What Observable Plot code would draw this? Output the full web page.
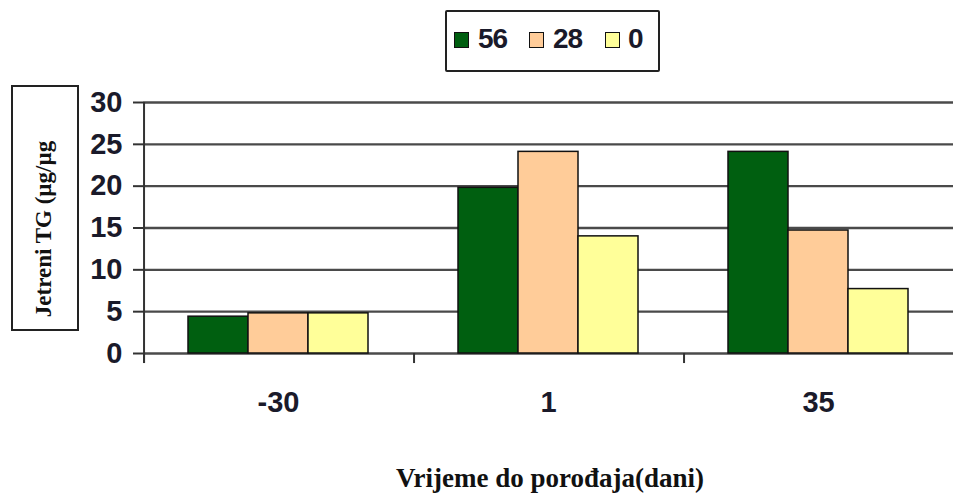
<!DOCTYPE html>
<html>
<head>
<meta charset="utf-8">
<script src="https://cdn.jsdelivr.net/npm/d3@7"></script>
<script src="https://cdn.jsdelivr.net/npm/@observablehq/plot@0.6"></script>
<style>
  html, body { margin: 0; padding: 0; background: #fff; }
  #wrap { position: relative; width: 953px; height: 496px; overflow: hidden; }
  .sans { font-family: "Liberation Sans", Arial, sans-serif; font-weight: bold; }
  #legend { position: absolute; left: 445px; top: 10px; width: 211px; height: 58px; border: 2px solid #222; border-radius: 2px; box-sizing: content-box; }
  .sw { position: absolute; top: 20px; width: 13px; height: 14px; border: 1.5px solid #111; }
  .lt { position: absolute; top: 10px; font-size: 28px; line-height: 34px; color: #1a1a2a; letter-spacing: -1px; }
  #ybox { position: absolute; left: 11px; top: 85px; width: 64px; height: 242px; border: 2px solid #222; }
  #ylab { position: absolute; left: 44px; top: 229px; transform: translate(-50%, -50%) rotate(-90deg); white-space: nowrap;
          font-family: "Liberation Serif", "Times New Roman", serif; font-weight: bold; font-size: 23px; color: #111; }
  #xlab { position: absolute; left: 550px; top: 463px; transform: translateX(-50%); white-space: nowrap;
          font-family: "Liberation Serif", "Times New Roman", serif; font-weight: bold; font-size: 27px; color: #111; }
</style>
</head>
<body>
<div id="wrap"></div>
<script>
// Data
const groups = [-30, 1, 35];            // days relative to parturition
const series = ["56", "28", "0"];       // legend labels
const values56 = [4.4, 19.8, 24.1];
const values28 = [4.8, 24.1, 14.7];
const values0  = [4.8, 14.0, 7.7];
const colors = ["#005f10", "#ffcc99", "#ffff99"];
const yTicks = [0, 5, 10, 15, 20, 25, 30];

const seriesValues = [values56, values28, values0];
const data = [];
groups.forEach((g, gi) => series.forEach((s, si) => data.push({group: g, series: s, value: seriesValues[si][gi]})));

const W = 953, H = 496, mL = 143, mR = 0, mT = 102, mB = 143;
const padOuter = 0.73;
const facetW = (W - mL - mR) / groups.length;
const step = facetW / (series.length + 2 * padOuter);
const edgeOffset = -(step * padOuter + step / 2); // from first band center to facet's left edge

const chart = Plot.plot({
  width: W,
  height: H,
  marginTop: mT,
  marginBottom: mB,
  marginLeft: mL,
  marginRight: mR,
  style: {fontFamily: '"Liberation Sans", Arial, sans-serif', background: "transparent", overflow: "visible"},
  fx: {domain: groups, padding: 0, label: null},
  x: {domain: series, paddingInner: 0, paddingOuter: padOuter, axis: null},
  y: {domain: [0, 30], ticks: yTicks, label: null},
  color: {domain: series, range: colors},
  marks: [
    Plot.ruleY(yTicks, {stroke: "#4a4a4a", strokeWidth: 2.4}),
    Plot.barY(data, {fx: "group", x: "series", y: "value", fill: "series", stroke: "#111", strokeWidth: 1.5}),
    Plot.ruleX(groups, {fx: d => d, x: () => series[0], y1: () => -1.2, y2: () => 0, dx: edgeOffset, stroke: "#333", strokeWidth: 2}),
    Plot.ruleX(groups.slice(0, 1), {fx: d => d, x: () => series[0], y1: () => -1.2, y2: () => 30, dx: edgeOffset, stroke: "#333", strokeWidth: 2}),
    Plot.axisY({ticks: yTicks, tickSize: 10, tickPadding: 11, stroke: "#333", strokeWidth: 2, fontSize: 29, fontWeight: "bold", fill: "#1a1a2a", label: null}),
    Plot.axisFx({anchor: "bottom", tickSize: 0, tickPadding: 38, fontSize: 29, fontWeight: "bold", fill: "#1a1a2a", label: null})
  ]
});

const wrap = document.getElementById("wrap");
wrap.appendChild(chart);

// Legend
const legend = document.createElement("div");
legend.id = "legend";
const swLeft = [7, 82, 158];
const txLeft = [31, 106, 181];
series.forEach((s, i) => {
  const sw = document.createElement("div");
  sw.className = "sw";
  sw.style.left = swLeft[i] + "px";
  sw.style.background = colors[i];
  legend.appendChild(sw);
  const t = document.createElement("div");
  t.className = "lt sans";
  t.style.left = txLeft[i] + "px";
  t.textContent = s;
  legend.appendChild(t);
});
wrap.appendChild(legend);

// Y label box
const ybox = document.createElement("div");
ybox.id = "ybox";
wrap.appendChild(ybox);
const ylab = document.createElement("div");
ylab.id = "ylab";
ylab.textContent = "Jetreni TG (µg/µg";
wrap.appendChild(ylab);

// X title
const xlab = document.createElement("div");
xlab.id = "xlab";
xlab.textContent = "Vrijeme do porođaja(dani)";
wrap.appendChild(xlab);
</script>
</body>
</html>
